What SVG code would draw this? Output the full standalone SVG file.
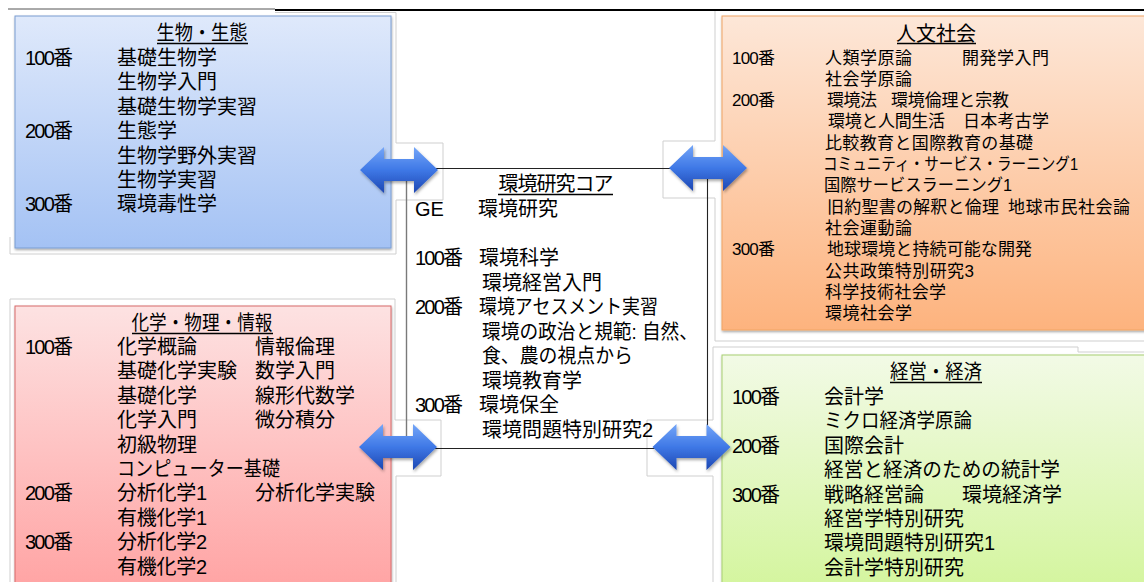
<svg xmlns="http://www.w3.org/2000/svg" width="1144" height="582" viewBox="0 0 1144 582">
<style>
text{font-family:"Liberation Sans","Noto Sans CJK JP",sans-serif;fill:#000;}
.t20{font-size:20px;}
.t17{font-size:17px;}
.ttl{font-size:20px;text-anchor:middle;}
.ul{stroke:#000;stroke-width:1.3;}
.frame{fill:none;stroke:#cfcfcf;stroke-width:1;}
.core{stroke:#222;stroke-width:1.1;fill:none;}
</style>
<defs>
<linearGradient id="gBlue" x1="0" y1="0" x2="0" y2="1"><stop offset="0" stop-color="#dfe9fb"/><stop offset="1" stop-color="#a4c2f4"/></linearGradient>
<linearGradient id="gPink" x1="0" y1="0" x2="0" y2="1"><stop offset="0" stop-color="#fde2e2"/><stop offset="1" stop-color="#ffa2a2"/></linearGradient>
<linearGradient id="gOrange" x1="0" y1="0" x2="0" y2="1"><stop offset="0" stop-color="#fde7d8"/><stop offset="1" stop-color="#fdb37e"/></linearGradient>
<linearGradient id="gGreen" x1="0" y1="0" x2="0" y2="1"><stop offset="0" stop-color="#f2fae6"/><stop offset="1" stop-color="#d3f59c"/></linearGradient>
<linearGradient id="gArrow" x1="0" y1="0" x2="0" y2="1"><stop offset="0" stop-color="#74a6f8"/><stop offset="0.5" stop-color="#3f78e6"/><stop offset="1" stop-color="#1c47b2"/></linearGradient>
<filter id="shadow" x="-5%" y="-5%" width="110%" height="115%"><feDropShadow dx="0.5" dy="1.5" stdDeviation="1" flood-color="#000" flood-opacity="0.35"/></filter>
<filter id="ashadow" x="-10%" y="-10%" width="125%" height="130%"><feDropShadow dx="1" dy="2" stdDeviation="1.5" flood-color="#000" flood-opacity="0.35"/></filter>
<path id="dblArrow" d="M-39,0 L-15,-23 L-15,-11 L15,-11 L15,-23 L39,0 L15,23 L15,11 L-15,11 L-15,23 Z" fill="url(#gArrow)" filter="url(#ashadow)"/>
</defs>
<rect width="1144" height="582" fill="#fff"/>

<g id="frames">
<path class="frame" d="M275,12.5 H396 V143 H443 V200 H396 V254 H10 V237"/>
<path class="frame" d="M715,10 V141 H663 V198 H715 V341 H1144"/>
<path class="frame" d="M713,347 H1078 V352 H1144"/>
<path class="frame" d="M713,347 V420 H647 V476 H713 V582"/>
<path class="frame" d="M10,582 V299 H395 V420 H441 V476 H396 V582"/>
<path d="M8,9 H275" stroke="#555" stroke-width="1"/>
<path d="M275,10 H1144" stroke="#000" stroke-width="1.8"/>
</g>

<g id="node-bio">
<rect x="15" y="16" width="376" height="232" fill="url(#gBlue)" stroke="#7b9ed2" stroke-width="1" filter="url(#shadow)"/>
<text class="ttl" x="202" y="40" textLength="91" lengthAdjust="spacingAndGlyphs">生物・生態</text>
<line class="ul" x1="157" y1="43.5" x2="248" y2="43.5"/>
<text class="t20" x="25" y="65" textLength="48">100番</text>
<text class="t20" x="117" y="65">基礎生物学</text>
<text class="t20" x="117" y="89">生物学入門</text>
<text class="t20" x="117" y="114">基礎生物学実習</text>
<text class="t20" x="25" y="138" textLength="48">200番</text>
<text class="t20" x="117" y="138">生態学</text>
<text class="t20" x="117" y="163">生物学野外実習</text>
<text class="t20" x="117" y="187">生物学実習</text>
<text class="t20" x="25" y="211" textLength="48">300番</text>
<text class="t20" x="117" y="211">環境毒性学</text>
</g>

<g id="node-chem">
<rect x="15" y="306" width="376" height="290" fill="url(#gPink)" stroke="#d86a6a" stroke-width="1" filter="url(#shadow)"/>
<text class="ttl" x="202" y="330" textLength="141" lengthAdjust="spacingAndGlyphs">化学・物理・情報</text>
<line class="ul" x1="132" y1="333.5" x2="273" y2="333.5"/>
<text class="t20" x="25" y="354" textLength="48">100番</text>
<text class="t20" x="117" y="354">化学概論</text>
<text class="t20" x="255" y="354">情報倫理</text>
<text class="t20" x="117" y="378.4">基礎化学実験</text>
<text class="t20" x="255" y="378.4">数学入門</text>
<text class="t20" x="117" y="402.8">基礎化学</text>
<text class="t20" x="255" y="402.8">線形代数学</text>
<text class="t20" x="117" y="427.2">化学入門</text>
<text class="t20" x="255" y="427.2">微分積分</text>
<text class="t20" x="117" y="451.6">初級物理</text>
<text class="t20" x="117" y="476" textLength="163" lengthAdjust="spacingAndGlyphs">コンピューター基礎</text>
<text class="t20" x="25" y="500.4" textLength="48">200番</text>
<text class="t20" x="117" y="500.4" textLength="90">分析化学1</text>
<text class="t20" x="255" y="500.4">分析化学実験</text>
<text class="t20" x="117" y="524.8" textLength="90">有機化学1</text>
<text class="t20" x="25" y="549.2" textLength="48">300番</text>
<text class="t20" x="117" y="549.2" textLength="90">分析化学2</text>
<text class="t20" x="117" y="573.6" textLength="90">有機化学2</text>
</g>

<g id="node-humanities">
<rect x="722" y="16" width="430" height="314" fill="url(#gOrange)" stroke="#f0a464" stroke-width="1" filter="url(#shadow)"/>
<text class="ttl" x="936" y="41">人文社会</text>
<line class="ul" x1="897" y1="43.5" x2="976" y2="43.5"/>
<text class="t17" x="732" y="63.5" textLength="43">100番</text>
<text class="t17" x="825" y="63.5" textLength="87">人類学原論</text>
<text class="t17" x="962" y="63.5" textLength="87">開発学入門</text>
<text class="t17" x="825" y="84.8" textLength="87">社会学原論</text>
<text class="t17" x="732" y="106.1" textLength="43">200番</text>
<text class="t17" x="827" y="106.1" textLength="50">環境法</text>
<text class="t17" x="891" y="106.1" textLength="118">環境倫理と宗教</text>
<text class="t17" x="828" y="127.4" textLength="117">環境と人間生活</text>
<text class="t17" x="963" y="127.4" textLength="86">日本考古学</text>
<text class="t17" x="825" y="148.7" textLength="208">比較教育と国際教育の基礎</text>
<text class="t17" x="823" y="170" textLength="255" lengthAdjust="spacingAndGlyphs">コミュニティ・サービス・ラーニング1</text>
<text class="t17" x="824" y="191.3" textLength="188" lengthAdjust="spacingAndGlyphs">国際サービスラーニング1</text>
<text class="t17" x="827" y="212.6" textLength="172">旧約聖書の解釈と倫理</text>
<text class="t17" x="1008" y="212.6" textLength="122">地球市民社会論</text>
<text class="t17" x="825" y="233.9" textLength="87">社会運動論</text>
<text class="t17" x="732" y="255.2" textLength="43">300番</text>
<text class="t17" x="827" y="255.2" textLength="205">地球環境と持続可能な開発</text>
<text class="t17" x="825" y="276.5" textLength="149">公共政策特別研究3</text>
<text class="t17" x="825" y="297.8" textLength="121">科学技術社会学</text>
<text class="t17" x="825" y="319.1" textLength="87">環境社会学</text>
</g>

<g id="node-econ">
<rect x="722" y="355" width="430" height="240" fill="url(#gGreen)" stroke="#a8d072" stroke-width="1" filter="url(#shadow)"/>
<text class="ttl" x="936" y="379" textLength="92" lengthAdjust="spacingAndGlyphs">経営・経済</text>
<line class="ul" x1="890" y1="382.5" x2="982" y2="382.5"/>
<text class="t20" x="732" y="404" textLength="48">100番</text>
<text class="t20" x="824" y="404">会計学</text>
<text class="t20" x="824" y="428.4" textLength="148" lengthAdjust="spacingAndGlyphs">ミクロ経済学原論</text>
<text class="t20" x="732" y="452.8" textLength="48">200番</text>
<text class="t20" x="824" y="452.8">国際会計</text>
<text class="t20" x="824" y="477.2" textLength="236" lengthAdjust="spacingAndGlyphs">経営と経済のための統計学</text>
<text class="t20" x="732" y="501.6" textLength="48">300番</text>
<text class="t20" x="824" y="501.6">戦略経営論</text>
<text class="t20" x="962" y="501.6">環境経済学</text>
<text class="t20" x="824" y="526">経営学特別研究</text>
<text class="t20" x="824" y="550.4" textLength="171">環境問題特別研究1</text>
<text class="t20" x="824" y="574.8">会計学特別研究</text>
</g>

<g id="node-core">
<line x1="406.5" y1="168.5" x2="406.5" y2="449" stroke="#7a7a7a" stroke-width="1.4"/>
<line class="core" x1="406" y1="168.5" x2="708" y2="168.5"/>
<line class="core" x1="707.5" y1="168" x2="707.5" y2="449"/>
<line class="core" x1="406" y1="448.5" x2="708" y2="448.5"/>
<text class="ttl" x="556" y="191" textLength="115">環境研究コア</text>
<line class="ul" x1="498" y1="194.5" x2="613" y2="194.5"/>
<text class="t20" x="415" y="216">GE</text>
<text class="t20" x="478" y="216">環境研究</text>
<text class="t20" x="415" y="265" textLength="48">100番</text>
<text class="t20" x="479" y="265">環境科学</text>
<text class="t20" x="482" y="289.5">環境経営入門</text>
<text class="t20" x="415" y="314" textLength="48">200番</text>
<text class="t20" x="479" y="314" textLength="179" lengthAdjust="spacingAndGlyphs">環境アセスメント実習</text>
<text class="t20" x="482" y="338.5" textLength="216" lengthAdjust="spacingAndGlyphs">環境の政治と規範: 自然、</text>
<text class="t20" x="482" y="363" textLength="151" lengthAdjust="spacingAndGlyphs">食、農の視点から</text>
<text class="t20" x="482" y="387.5">環境教育学</text>
<text class="t20" x="415" y="412" textLength="48">300番</text>
<text class="t20" x="479" y="412">環境保全</text>
<text class="t20" x="482" y="436.5" textLength="171">環境問題特別研究2</text>
</g>

<g id="connectors">
<use href="#dblArrow" transform="translate(399,170)"/>
<use href="#dblArrow" transform="translate(708,168)"/>
<use href="#dblArrow" transform="translate(398,447)"/>
<use href="#dblArrow" transform="translate(691.5,447)"/>
</g>
</svg>
